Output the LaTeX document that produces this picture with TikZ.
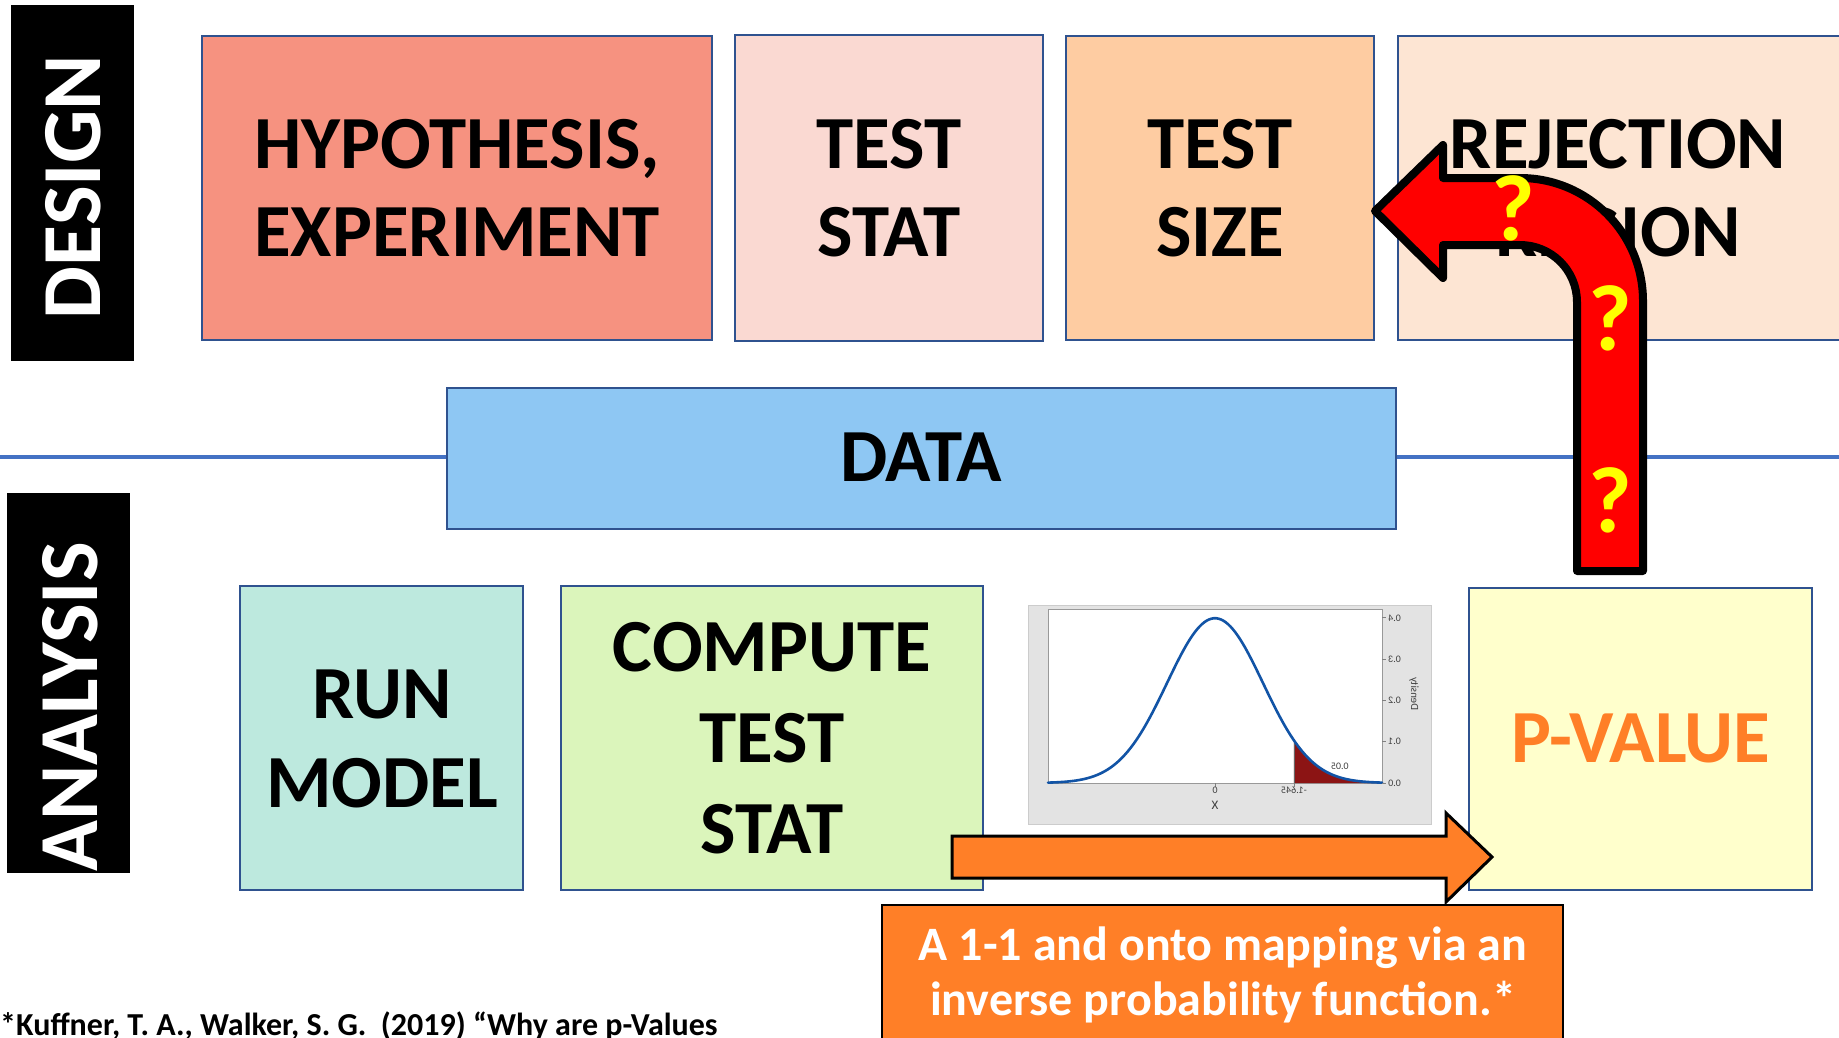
\documentclass[tikz,border=0pt]{standalone}
\usepackage{fontspec}
\usepackage{graphicx}
\setmainfont{Carlito}
\definecolor{boxline}{RGB}{47,82,143}
\definecolor{hypfill}{RGB}{246,146,128}
\definecolor{statfill}{RGB}{250,217,210}
\definecolor{sizefill}{RGB}{254,204,162}
\definecolor{rejfill}{RGB}{253,229,211}
\definecolor{datafill}{RGB}{142,199,243}
\definecolor{runfill}{RGB}{189,233,222}
\definecolor{compfill}{RGB}{219,245,187}
\definecolor{pvalfill}{RGB}{255,255,204}
\definecolor{rule}{RGB}{68,114,196}
\definecolor{orangefill}{RGB}{255,127,39}
\definecolor{qyellow}{RGB}{255,255,0}
\definecolor{curveblue}{RGB}{18,84,166}
\definecolor{tailred}{RGB}{140,20,20}
\definecolor{chartbg}{RGB}{227,227,227}
\tikzset{
  stagebox/.style={draw=boxline, line width=2.5pt, inner sep=0pt, outer sep=0pt, anchor=north west},
  bigtxt/.style={font=\fontsize{75}{75}\selectfont\bfseries, inner sep=0pt, anchor=base},
  sidebar/.style={fill=black, inner sep=0pt, outer sep=0pt, anchor=north west},
  sidetxt/.style={text=white, font=\fontsize{84}{84}\selectfont\bfseries, rotate=90, inner sep=0pt, anchor=base},
  qmark/.style={text=qyellow, font=\fontsize{94}{94}\selectfont\bfseries, inner sep=0pt, anchor=base},
  chartlbl/.style={font=\fontsize{10}{10}\selectfont, text=black!75, inner sep=0pt},
  blockarrow/.style={draw=black, line join=round},
}
\begin{document}
\begin{tikzpicture}[x=1pt, y=-1pt]
\useasboundingbox (0,0) rectangle (1839,1038);
\clip (0,0) rectangle (1839,1038);

% dividing rule between design and analysis
\coordinate (ruleL) at (0,457);
\coordinate (ruleR) at (1839,457);
\draw[rule, line width=4pt] (ruleL) -- (ruleR);

% side labels
\node[sidebar, minimum width=123pt, minimum height=356pt] (designbar) at (11,5) {};
\node[sidetxt] (design) at (100,187) {DESIGN};
\node[sidebar, minimum width=123pt, minimum height=380pt] (analysisbar) at (7,493) {};
\node[sidetxt] (analysis) at (97,707) {ANALYSIS};

% design row
\node[stagebox, fill=hypfill, minimum width=510pt, minimum height=304pt] (hyp) at (202,36) {};
\node[bigtxt] (hyp1) at (457,168) {HYPOTHESIS,};
\node[bigtxt] (hyp2) at (457,256) {EXPERIMENT};

\node[stagebox, fill=statfill, minimum width=308pt, minimum height=306pt] (tstat) at (735,35) {};
\node[bigtxt] (tstat1) at (889,168) {TEST};
\node[bigtxt] (tstat2) at (889,256) {STAT};

\node[stagebox, fill=sizefill, minimum width=308pt, minimum height=304pt] (tsize) at (1066,36) {};
\node[bigtxt] (tsize1) at (1220,168) {TEST};
\node[bigtxt] (tsize2) at (1220,256) {SIZE};

\node[stagebox, fill=rejfill, minimum width=460pt, minimum height=304pt] (rej) at (1398,36) {};
\node[bigtxt] (rej1) at (1618,168) {REJECTION};
\node[bigtxt] (rej2) at (1618,256) {REGION};

% data
\node[stagebox, fill=datafill, minimum width=949pt, minimum height=141pt] (data) at (447,388) {};
\node[bigtxt] (data1) at (921,481) {DATA};

% analysis row
\node[stagebox, fill=runfill, minimum width=283pt, minimum height=304pt] (run) at (240,586) {};
\node[bigtxt] (run1) at (382,718) {RUN};
\node[bigtxt] (run2) at (382,807) {MODEL};

\node[stagebox, fill=compfill, minimum width=422pt, minimum height=304pt] (comp) at (561,586) {};
\node[bigtxt] (comp1) at (772,671) {COMPUTE};
\node[bigtxt] (comp2) at (772,762) {TEST};
\node[bigtxt] (comp3) at (772,853) {STAT};

\node[stagebox, fill=pvalfill, minimum width=343pt, minimum height=302pt] (pval) at (1469,588) {};
\node[bigtxt, text=orangefill] (pval1) at (1641,762) {P-VALUE};

% normal density chart (mirrored image)
\fill[chartbg, draw=black!20, line width=1pt] (1028,605) rectangle (1431,824);
\fill[white, draw=black!40, line width=1pt] (1048,609) rectangle (1382,783);
\begin{scope}[shift={(1215,783)}, x=-48pt, y=413pt]
  \fill[tailred] (-1.645,0) -- plot[domain=-1.645:-3.48, samples=40] (\x,{0.398942*exp(-0.5*(\x)*(\x))}) -- (-3.48,0) -- cycle;
  \draw[black!60, line width=0.8pt] (-1.645,0) -- (-1.645,0.1031);
  \draw[curveblue, line width=2.6pt, line cap=round] plot[domain=-3.48:3.48, samples=140, smooth] (\x,{0.398942*exp(-0.5*(\x)*(\x))});
  \foreach \v/\n in {0.0/a,0.1/b,0.2/c,0.3/d,0.4/e}{
    \draw[black!50, line width=0.8pt] (-3.48,\v) -- (-3.56,\v);
    \node[chartlbl, anchor=west, xshift=6pt] (ylab\n) at (-3.48,\v) {\reflectbox{\v}};
  }
  \draw[black!50, line width=0.8pt] (0,0) -- (0,-0.01);
  \draw[black!50, line width=0.8pt] (-1.645,0) -- (-1.645,-0.01);
  \node[chartlbl] (xzero) at (0,-0.017) {\reflectbox{0}};
  \node[chartlbl] (xcrit) at (-1.645,-0.017) {\reflectbox{-1.645}};
  \node[chartlbl] (tailp) at (-2.6,0.041) {\reflectbox{0.05}};
  \node[chartlbl, font=\fontsize{13}{13}\selectfont] (xname) at (0,-0.054) {\reflectbox{X}};
\end{scope}
\node[chartlbl, font=\fontsize{11}{11}\selectfont] (yname) at (1414,694) {\reflectbox{\rotatebox{90}{Density}}};

% orange mapping arrow and caption
\coordinate (mapstart) at (952,857);
\coordinate (maptip) at (1492,857);
\draw[blockarrow, fill=orangefill, line width=3pt, line join=miter]
  (952,836) -- (1446,836) -- (1446,813) -- (maptip) -- (1446,902) -- (1446,878) -- (952,878) -- cycle;
\node[draw=black, line width=2pt, fill=orangefill, inner sep=0pt, outer sep=0pt, anchor=north west,
      minimum width=681pt, minimum height=160pt] (mapbox) at (882,905) {};
\node[bigtxt, text=white, font=\fontsize{48}{48}\selectfont\bfseries] (map1) at (1223,960) {A 1-1 and onto mapping via an};
\node[bigtxt, text=white, font=\fontsize{48}{48}\selectfont\bfseries] (map2) at (1223,1015) {inverse probability function.*};

% red feedback arrow from p-value back to test size
\coordinate (fbtip) at (1375,211);
\draw[blockarrow, fill=red, line width=8pt]
  (1577,571) -- (1577,302) arc[start angle=0, end angle=-90, radius=57]
  -- (1443,245) -- (1443,278) -- (fbtip) -- (1443,145) -- (1443,178) -- (1520,178)
  arc[start angle=-90, end angle=0, radius=123] -- (1643,571) -- cycle;
\node[qmark] (q1) at (1513,240) {?};
\node[qmark] (q2) at (1610,350) {?};
\node[qmark] (q3) at (1610,532) {?};

% reference
\node[inner sep=0pt, anchor=base west, font=\fontsize{32}{32}\selectfont\bfseries] (cite) at (0,1035)
  {*Kuffner, T. A., Walker, S. G.\ \ (2019) “Why are p-Values};
\end{tikzpicture}
\end{document}
